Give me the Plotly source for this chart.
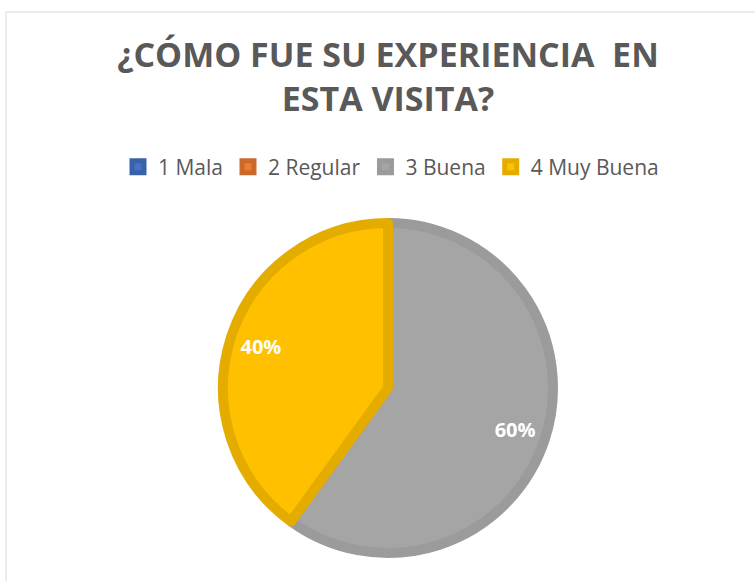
import plotly.graph_objects as go

categories = ["1 Mala", "2 Regular", "3 Buena", "4 Muy Buena"]
values = [0, 0, 60, 40]
fill_colors = ["#4472C4", "#ED7D31", "#A5A5A5", "#FFC000"]
edge_colors = ["#3A62A8", "#CA6A2A", "#9B9B9B", "#E5AC00"]
title_text = "¿CÓMO FUE SU EXPERIENCIA  EN<br>ESTA VISITA?"

total = sum(values)
labels_text = [f"{round(v * 100 / total)}%" if v > 0 else "" for v in values]

W, H = 755, 581
pie_domain = dict(x=[223 / W, 553 / W], y=[1 - 553 / H, 1 - 223 / H])

fig = go.Figure()
fig.add_trace(go.Pie(
    labels=categories,
    values=values,
    sort=False,
    direction="clockwise",
    rotation=0,
    textinfo="none",
    marker=dict(colors=fill_colors, line=dict(color=edge_colors, width=10)),
    domain=pie_domain,
    showlegend=True,
    hoverinfo="label+percent",
))
# transparent ring that only carries the percentage labels
fig.add_trace(go.Pie(
    labels=categories,
    values=values,
    sort=False,
    direction="clockwise",
    rotation=0,
    hole=0.62,
    text=labels_text,
    textinfo="text",
    textposition="inside",
    insidetextorientation="horizontal",
    textfont=dict(family="Open Sans", size=20, color="white", weight="bold"),
    marker=dict(colors=["rgba(0,0,0,0)"] * len(values), line=dict(width=0)),
    domain=pie_domain,
    showlegend=False,
    hoverinfo="skip",
))

fig.update_layout(
    width=W, height=H,
    margin=dict(l=0, r=0, t=0, b=0),
    paper_bgcolor="white",
    font=dict(family="Open Sans", color="#595959"),
    title=dict(text=title_text, x=388 / W, xanchor="center", y=1 - 67 / H, yanchor="top",
               font=dict(family="Open Sans", size=34, color="#595959", weight="bold"),
               ),
    legend=dict(orientation="h", x=391 / W, xanchor="center", y=1 - 167 / H, yanchor="middle",
                font=dict(family="Open Sans", size=21, color="#595959"),
                traceorder="normal", itemwidth=30),
    shapes=[dict(type="rect", xref="paper", yref="paper", x0=6 / W, x1=1.02, y0=-0.02, y1=1 - 12 / H,
                 line=dict(color="#D9D9D9", width=1), fillcolor="rgba(0,0,0,0)", layer="below")],
)

fig.write_html("out.html", config={"displayModeBar": False},
               post_script="document.body.style.margin='0px';")
